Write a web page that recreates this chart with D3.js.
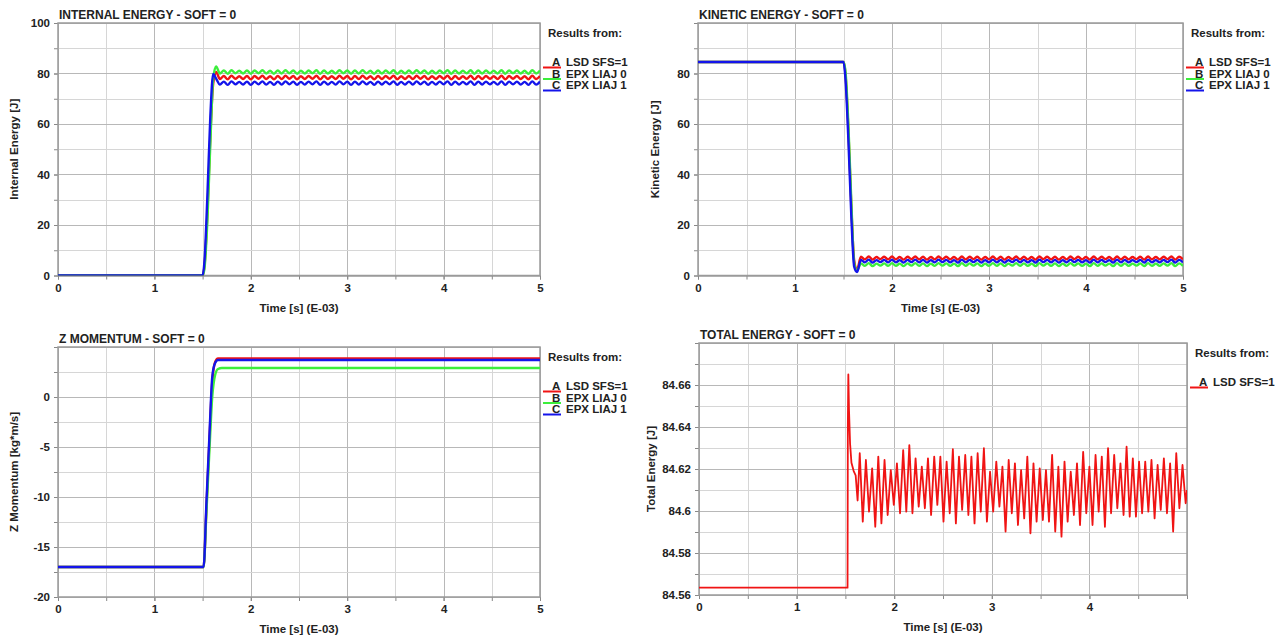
<!DOCTYPE html>
<html>
<head>
<meta charset="utf-8">
<script src="https://cdn.jsdelivr.net/npm/d3@7"></script>
<style>
  body { margin: 0; background: #fff; }
  text { font-family: "Liberation Sans", Arial, sans-serif; font-weight: bold; fill: #222; }
</style>
</head>
<body>
<div id="chart"></div>
<script>
// ---- data ----
var seriesKeys = ["A", "B", "C"];
var seriesNames = ["LSD SFS=1", "EPX LIAJ 0", "EPX LIAJ 1"];
var seriesColors = ["#f01414", "#3cee3c", "#1414ea"];

var timeTicks = [0, 1, 2, 3, 4, 5];
var timeTicksTotal = [0, 1, 2, 3, 4];
var ieTicks = [0, 20, 40, 60, 80, 100];
var keTicks = [0, 20, 40, 60, 80];
var zmTicks = [-20, -15, -10, -5, 0];
var teTicks = [84.56, 84.58, 84.6, 84.62, 84.64, 84.66];

// time [ms] shared by internal and kinetic energy
var timeEnergy = [0, 1.50, 1.52, 1.55, 1.58, 1.61, 1.64,
  1.68, 1.72, 1.76, 1.80, 1.84, 1.88, 1.92, 1.96, 2.00,
  2.04, 2.08, 2.12, 2.16, 2.20, 2.24, 2.28, 2.32, 2.36, 2.40, 2.44, 2.48, 2.52,
  2.56, 2.60, 2.64, 2.68, 2.72, 2.76, 2.80, 2.84, 2.88, 2.92, 2.96, 3.00,
  3.04, 3.08, 3.12, 3.16, 3.20, 3.24, 3.28, 3.32, 3.36, 3.40, 3.44, 3.48, 3.52,
  3.56, 3.60, 3.64, 3.68, 3.72, 3.76, 3.80, 3.84, 3.88, 3.92, 3.96, 4.00,
  4.04, 4.08, 4.12, 4.16, 4.20, 4.24, 4.28, 4.32, 4.36, 4.40, 4.44, 4.48, 4.52,
  4.56, 4.60, 4.64, 4.68, 4.72, 4.76, 4.80, 4.84, 4.88, 4.92, 4.96, 5.00];

var internalA = [0, 0, 4, 25, 55, 76, 80.6,
  77.8, 79.0, 77.7, 79.1, 77.9, 78.9, 77.8, 79.0, 77.7, 79.0, 77.9, 79.1,
  77.8, 78.9, 77.7, 79.0, 77.8, 79.1, 77.9, 79.0, 77.7, 78.9, 77.8, 79.0,
  77.9, 79.1, 77.7, 79.0, 77.8, 78.9, 77.8, 79.1, 77.9, 79.0, 77.7, 79.0,
  77.8, 79.1, 77.9, 78.9, 77.7, 79.0, 77.8, 79.0, 77.9, 79.1, 77.7, 78.9,
  77.8, 79.0, 77.8, 79.1, 77.9, 79.0, 77.7, 78.9, 77.8, 79.0, 77.9, 79.1,
  77.7, 79.0, 77.8, 78.9, 77.9, 79.1, 77.7, 79.0, 77.8, 79.0, 77.9, 78.9,
  77.8, 79.1, 77.7, 79.0, 77.9, 79.0, 77.8, 78.9, 77.7, 79.1, 77.8, 79.0];
var internalB = [0, 0, 3, 22, 52, 78, 82.8,
  80.0, 81.2, 79.9, 81.3, 80.1, 81.1, 80.0, 81.2, 79.9, 81.2, 80.1, 81.3,
  80.0, 81.1, 79.9, 81.2, 80.0, 81.3, 80.1, 81.2, 79.9, 81.1, 80.0, 81.2,
  80.1, 81.3, 79.9, 81.2, 80.0, 81.1, 80.0, 81.3, 80.1, 81.2, 79.9, 81.2,
  80.0, 81.3, 80.1, 81.1, 79.9, 81.2, 80.0, 81.2, 80.1, 81.3, 79.9, 81.1,
  80.0, 81.2, 80.0, 81.3, 80.1, 81.2, 79.9, 81.1, 80.0, 81.2, 80.1, 81.3,
  79.9, 81.2, 80.0, 81.1, 80.1, 81.3, 79.9, 81.2, 80.0, 81.2, 80.1, 81.1,
  80.0, 81.3, 79.9, 81.2, 80.1, 81.2, 80.0, 81.1, 79.9, 81.3, 80.0, 81.2];
var internalC = [0, 0, 6, 32, 63, 79.8, 78.0,
  75.6, 76.8, 75.5, 76.9, 75.7, 76.7, 75.6, 76.8, 75.5, 76.8, 75.7, 76.9,
  75.6, 76.7, 75.5, 76.8, 75.6, 76.9, 75.7, 76.8, 75.5, 76.7, 75.6, 76.8,
  75.7, 76.9, 75.5, 76.8, 75.6, 76.7, 75.6, 76.9, 75.7, 76.8, 75.5, 76.8,
  75.6, 76.9, 75.7, 76.7, 75.5, 76.8, 75.6, 76.8, 75.7, 76.9, 75.5, 76.7,
  75.6, 76.8, 75.6, 76.9, 75.7, 76.8, 75.5, 76.7, 75.6, 76.8, 75.7, 76.9,
  75.5, 76.8, 75.6, 76.7, 75.7, 76.9, 75.5, 76.8, 75.6, 76.8, 75.7, 76.7,
  75.6, 76.9, 75.5, 76.8, 75.7, 76.8, 75.6, 76.7, 75.5, 76.9, 75.6, 76.8];

var kineticA = [84.56, 84.56, 80, 58, 28, 6, 2.4,
  7.4, 6.4, 7.5, 6.3, 7.3, 6.5, 7.4, 6.4, 7.5, 6.4, 7.3, 6.3,
  7.4, 6.5, 7.5, 6.4, 7.4, 6.3, 7.3, 6.4, 7.5, 6.5, 7.4, 6.4,
  7.3, 6.3, 7.5, 6.4, 7.4, 6.5, 7.4, 6.3, 7.3, 6.4, 7.5, 6.4,
  7.4, 6.3, 7.3, 6.5, 7.5, 6.4, 7.4, 6.4, 7.3, 6.3, 7.5, 6.5,
  7.4, 6.4, 7.4, 6.3, 7.3, 6.4, 7.5, 6.5, 7.4, 6.4, 7.3, 6.3,
  7.5, 6.4, 7.4, 6.5, 7.3, 6.3, 7.5, 6.4, 7.4, 6.4, 7.3, 6.5,
  7.4, 6.3, 7.5, 6.4, 7.3, 6.4, 7.4, 6.5, 7.5, 6.3, 7.4, 6.4];
var kineticB = [84.56, 84.56, 81, 60, 30, 5, 2.0,
  4.8, 3.8, 4.9, 3.7, 4.7, 3.9, 4.8, 3.8, 4.9, 3.8, 4.7, 3.7,
  4.8, 3.9, 4.9, 3.8, 4.8, 3.7, 4.7, 3.8, 4.9, 3.9, 4.8, 3.8,
  4.7, 3.7, 4.9, 3.8, 4.8, 3.9, 4.8, 3.7, 4.7, 3.8, 4.9, 3.8,
  4.8, 3.7, 4.7, 3.9, 4.9, 3.8, 4.8, 3.8, 4.7, 3.7, 4.9, 3.9,
  4.8, 3.8, 4.8, 3.7, 4.7, 3.8, 4.9, 3.9, 4.8, 3.8, 4.7, 3.7,
  4.9, 3.8, 4.8, 3.9, 4.7, 3.7, 4.9, 3.8, 4.8, 3.8, 4.7, 3.9,
  4.8, 3.7, 4.9, 3.8, 4.7, 3.8, 4.8, 3.9, 4.9, 3.7, 4.8, 3.8];
var kineticC = [84.56, 84.56, 78, 54, 24, 3.5, 1.4,
  6.2, 5.2, 6.3, 5.1, 6.1, 5.3, 6.2, 5.2, 6.3, 5.2, 6.1, 5.1,
  6.2, 5.3, 6.3, 5.2, 6.2, 5.1, 6.1, 5.2, 6.3, 5.3, 6.2, 5.2,
  6.1, 5.1, 6.3, 5.2, 6.2, 5.3, 6.2, 5.1, 6.1, 5.2, 6.3, 5.2,
  6.2, 5.1, 6.1, 5.3, 6.3, 5.2, 6.2, 5.2, 6.1, 5.1, 6.3, 5.3,
  6.2, 5.2, 6.2, 5.1, 6.1, 5.2, 6.3, 5.3, 6.2, 5.2, 6.1, 5.1,
  6.3, 5.2, 6.2, 5.3, 6.1, 5.1, 6.3, 5.2, 6.2, 5.2, 6.1, 5.3,
  6.2, 5.1, 6.3, 5.2, 6.1, 5.2, 6.2, 5.3, 6.3, 5.1, 6.2, 5.2];

var timeMomentum = [0, 1.51, 1.54, 1.57, 1.60, 1.63, 1.66, 1.70, 5.0];
var momentumA = [-17, -17, -11, -4.5, 1.5, 3.5, 3.85, 3.85, 3.85];
var momentumB = [-17, -17, -11.5, -5.5, 0, 2.2, 2.8, 2.9, 2.9];
var momentumC = [-17, -17, -10.5, -4, 2, 3.4, 3.7, 3.7, 3.7];

var timeTotal = [0, 1.522, 1.525, 1.530, 1.537, 1.548, 1.562, 1.585, 1.605, 1.625,
  1.647, 1.678, 1.710, 1.742, 1.774, 1.806, 1.837, 1.869, 1.901, 1.933,
  1.965, 1.996, 2.028, 2.060, 2.092, 2.124, 2.155, 2.187, 2.219, 2.251,
  2.283, 2.314, 2.346, 2.378, 2.410, 2.442, 2.473, 2.505, 2.537, 2.569,
  2.601, 2.632, 2.664, 2.696, 2.728, 2.760, 2.791, 2.823, 2.855, 2.887,
  2.919, 2.950, 2.982, 3.014, 3.046, 3.078, 3.109, 3.141, 3.173, 3.205,
  3.237, 3.268, 3.300, 3.332, 3.364, 3.396, 3.427, 3.459, 3.491, 3.523,
  3.555, 3.586, 3.618, 3.650, 3.682, 3.714, 3.745, 3.777, 3.809, 3.841,
  3.873, 3.904, 3.936, 3.968, 4.000, 4.032, 4.063, 4.095, 4.127, 4.159,
  4.191, 4.222, 4.254, 4.286, 4.318, 4.350, 4.381, 4.413, 4.445, 4.477,
  4.509, 4.540, 4.572, 4.604, 4.636, 4.668, 4.699, 4.731, 4.763, 4.795,
  4.827, 4.858, 4.890, 4.922, 4.954, 4.986, 5.000];
var totalA = [84.5635, 84.5635, 84.640, 84.665, 84.648, 84.632, 84.623, 84.619, 84.617, 84.605,
  84.6275, 84.5949, 84.6243, 84.5997, 84.6203, 84.5925, 84.6259, 84.5941, 84.6243, 84.5981,
  84.6195, 84.6029, 84.6227, 84.5989, 84.6290, 84.5997, 84.6314, 84.5989, 84.6251, 84.6021,
  84.6211, 84.6013, 84.6251, 84.5981, 84.6259, 84.6029, 84.6259, 84.5949, 84.6235, 84.5989,
  84.6294, 84.5941, 84.6259, 84.6005, 84.6267, 84.5981, 84.6259, 84.5941, 84.6275, 84.5997,
  84.6299, 84.5949, 84.6187, 84.5997, 84.6235, 84.6021, 84.6211, 84.5902, 84.6243, 84.5989,
  84.6227, 84.5933, 84.6195, 84.5965, 84.6259, 84.5894, 84.6227, 84.5949, 84.6203, 84.5957,
  84.6195, 84.5949, 84.6267, 84.5902, 84.6211, 84.5878, 84.6235, 84.5949, 84.6187, 84.5981,
  84.6227, 84.5933, 84.6282, 84.5989, 84.6211, 84.5933, 84.6267, 84.5997, 84.6259, 84.5925,
  84.6299, 84.5989, 84.6267, 84.6013, 84.6227, 84.5981, 84.6306, 84.5973, 84.6251, 84.5973,
  84.6235, 84.5989, 84.6235, 84.5997, 84.6243, 84.5965, 84.6219, 84.6005, 84.6251, 84.5989,
  84.6227, 84.5902, 84.6275, 84.6013, 84.6219, 84.6037, 84.6100];

// ---- drawing ----
var width = 1285, height = 636;

var svg = d3.select("#chart")
  .append("svg")
  .attr("width", width)
  .attr("height", height)

var panels = [
  { id: "ie", title: "INTERNAL ENERGY - SOFT = 0", yTitle: "Internal Energy [J]",
    left: 58, right: 540, top: 23, bottom: 275.5, yTitleX: 14,
    xDomain: [0, 5], yDomain: [0, 100], xTicks: timeTicks, yTicks: ieTicks,
    gridX: d3.range(0, 5.01, 0.5), gridY: d3.range(0, 100.1, 10),
    time: timeEnergy, series: [internalA, internalB, internalC], curve: d3.curveMonotoneX },
  { id: "ke", title: "KINETIC ENERGY - SOFT = 0", yTitle: "Kinetic Energy [J]",
    left: 698, right: 1183, top: 23, bottom: 275.5, yTitleX: 655,
    xDomain: [0, 5], yDomain: [0, 100], xTicks: timeTicks, yTicks: keTicks,
    gridX: d3.range(0, 5.01, 0.5), gridY: d3.range(0, 100.1, 10),
    time: timeEnergy, series: [kineticA, kineticB, kineticC], curve: d3.curveMonotoneX },
  { id: "zm", title: "Z MOMENTUM - SOFT = 0", yTitle: "Z Momentum [kg*m/s]",
    left: 58, right: 540, top: 347, bottom: 597, yTitleX: 14,
    xDomain: [0, 5], yDomain: [-20, 5], xTicks: timeTicks, yTicks: zmTicks,
    gridX: d3.range(0, 5.01, 0.5), gridY: d3.range(-20, 5.1, 2.5),
    time: timeMomentum, series: [momentumA, momentumB, momentumC], curve: d3.curveMonotoneX },
  { id: "te", title: "TOTAL ENERGY - SOFT = 0", yTitle: "Total Energy [J]",
    left: 699, right: 1187, top: 343, bottom: 595, yTitleX: 651,
    xDomain: [0, 5], yDomain: [84.56, 84.68], xTicks: timeTicksTotal, yTicks: teTicks,
    gridX: d3.range(0, 5.01, 0.5), gridY: d3.range(0, 12.1, 1).map(function(i) { return 84.56 + i * 0.01 }),
    time: timeTotal, series: [totalA], curve: d3.curveLinear, lineWidth: 1.8 }
];

panels.forEach(drawPanel);

function crisp(v) { return Math.round(v) + 0.5 }

function drawPanel(p) {
  var g = svg.append("g").attr("class", "panel-" + p.id)

  var x = d3.scaleLinear().domain(p.xDomain).range([p.left, p.right])
  var y = d3.scaleLinear().domain(p.yDomain).range([p.bottom, p.top])

  // grid: full units darker, halves lighter
  g.selectAll(".gx").data(p.gridX).enter().append("line")
    .attr("x1", function(d) { return crisp(x(d)) })
    .attr("x2", function(d) { return crisp(x(d)) })
    .attr("y1", p.top).attr("y2", p.bottom)
    .attr("stroke", function(d, i) { return i % 2 == 0 ? "#b8b8b8" : "#d6d6d6" })
  g.selectAll(".gy").data(p.gridY).enter().append("line")
    .attr("y1", function(d) { return crisp(y(d)) })
    .attr("y2", function(d) { return crisp(y(d)) })
    .attr("x1", p.left).attr("x2", p.right)
    .attr("stroke", function(d, i) { return i % 2 == 0 ? "#b8b8b8" : "#d6d6d6" })

  // small outer ticks at every grid line
  g.append("g").attr("transform", "translate(0," + p.bottom + ")")
    .call(d3.axisBottom(x).tickValues(p.gridX).tickSize(4).tickFormat(""))
  g.append("g").attr("transform", "translate(" + p.left + ",0)")
    .call(d3.axisLeft(y).tickValues(p.gridY).tickSize(4).tickFormat(""))

  // labelled axes
  g.append("g").attr("transform", "translate(0," + p.bottom + ")")
    .call(d3.axisBottom(x).tickValues(p.xTicks).tickSize(4).tickPadding(4).tickFormat(String))
  g.append("g").attr("transform", "translate(" + p.left + ",0)")
    .call(d3.axisLeft(y).tickValues(p.yTicks).tickSize(4).tickPadding(4).tickFormat(String))

  g.selectAll(".domain").remove()
  g.selectAll(".tick line").attr("stroke", "#888")
  g.selectAll(".tick text")
    .style("font-family", "'Liberation Sans', Arial, sans-serif")
    .style("font-weight", "bold")
    .style("font-size", "11.5px")
    .attr("fill", "#222")

  // frame
  g.append("rect")
    .attr("x", p.left).attr("y", p.top)
    .attr("width", p.right - p.left).attr("height", p.bottom - p.top)
    .attr("fill", "none").attr("stroke", "#9a9a9a").attr("stroke-width", 1.5)

  // curves
  var clipId = "clip-" + p.id
  g.append("clipPath").attr("id", clipId).append("rect")
    .attr("x", p.left).attr("y", p.top)
    .attr("width", p.right - p.left).attr("height", p.bottom - p.top)

  var line = d3.line()
    .curve(p.curve)
    .x(function(d) { return x(d[0]) })
    .y(function(d) { return y(d[1]) })

  p.series.forEach(function(values, i) {
    g.append("path")
      .datum(d3.zip(p.time, values))
      .attr("clip-path", "url(#" + clipId + ")")
      .attr("fill", "none")
      .attr("stroke", seriesColors[i])
      .attr("stroke-width", p.lineWidth || 2.4)
      .attr("stroke-linejoin", "round")
      .attr("d", line)
  })

  // titles
  g.append("text")
    .attr("x", p.left + 1).attr("y", p.top - 4)
    .style("font-size", "12px")
    .text(p.title)

  g.append("text")
    .attr("x", (p.left + p.right) / 2).attr("y", p.bottom + 36)
    .attr("text-anchor", "middle")
    .style("font-size", "11.5px")
    .text("Time [s] (E-03)")

  g.append("text")
    .attr("transform", "translate(" + p.yTitleX + "," + (p.top + p.bottom) / 2 + ") rotate(-90)")
    .attr("text-anchor", "middle")
    .attr("dy", "0.35em")
    .style("font-size", "11.5px")
    .text(p.yTitle)

  // legend
  var lx = p.right + 8
  g.append("text")
    .attr("x", lx).attr("y", p.top + 14)
    .style("font-size", "11.5px")
    .text("Results from:")

  p.series.forEach(function(values, i) {
    var by = p.top + 43 + i * 11.5
    g.append("line")
      .attr("x1", p.right + 3).attr("x2", p.right + 21)
      .attr("y1", by + 1.5).attr("y2", by + 1.5)
      .attr("stroke", seriesColors[i]).attr("stroke-width", 2)
    g.append("text")
      .attr("x", p.right + 12).attr("y", by)
      .style("font-size", "11.5px")
      .text(seriesKeys[i])
    g.append("text")
      .attr("x", p.right + 26).attr("y", by)
      .style("font-size", "11.5px")
      .text(seriesNames[i])
  })
}
</script>
</body>
</html>
